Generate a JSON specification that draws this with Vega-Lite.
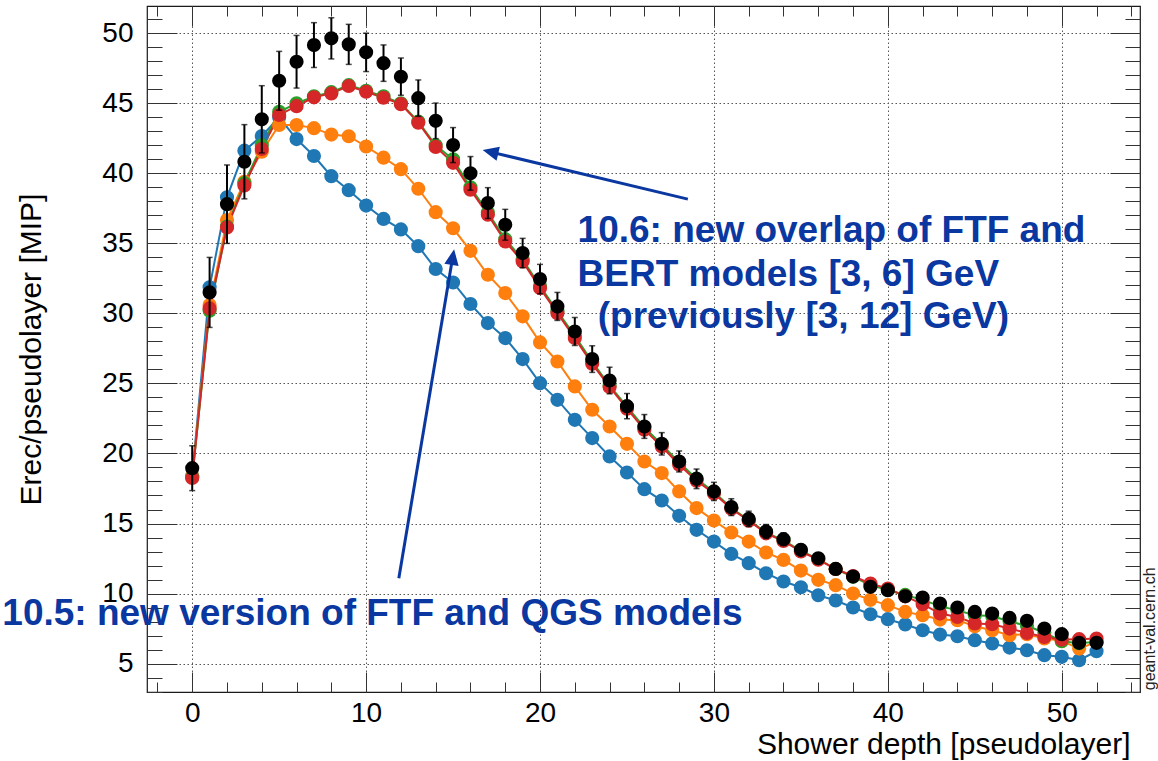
{
  "$schema": "https://vega.github.io/schema/vega-lite/v6.json",
  "width": 993,
  "height": 686,
  "autosize": "none",
  "padding": {"left": 147, "top": 6, "right": 18, "bottom": 69},
  "background": "white",
  "config": {
    "view": {"stroke": "#1a1a1a", "strokeWidth": 1.2},
    "font": "Liberation Sans",
    "axis": {"labelFont": "Liberation Sans", "titleFont": "Liberation Sans", "labelColor": "#000", "titleColor": "#000", "titleFontWeight": "normal", "tickColor": "#333", "tickWidth": 1, "domain": false, "labelFlush": false, "labelOverlap": false}
  },
  "datasets": {
    "profile": [
      {"d":0,"blue":18.4,"orange":18.4,"green":18.3,"red":18.25,"measured":18.95,"err":1.6},
      {"d":1,"blue":31.86,"orange":30.6,"green":30.2,"red":30.36,"measured":31.5,"err":2.5},
      {"d":2,"blue":38.29,"orange":36.67,"green":36.2,"red":36.14,"measured":37.8,"err":2.8},
      {"d":3,"blue":41.62,"orange":39.4,"green":39.3,"red":39.14,"measured":40.83,"err":2.65},
      {"d":4,"blue":42.67,"orange":41.55,"green":42.0,"red":41.74,"measured":43.86,"err":2.4},
      {"d":5,"blue":44.0,"orange":43.45,"green":44.4,"red":44.17,"measured":46.61,"err":2.1},
      {"d":6,"blue":42.45,"orange":43.45,"green":45.0,"red":44.8,"measured":47.97,"err":1.88},
      {"d":7,"blue":41.24,"orange":43.23,"green":45.5,"red":45.43,"measured":49.16,"err":1.6},
      {"d":8,"blue":39.8,"orange":42.77,"green":45.8,"red":45.71,"measured":49.64,"err":1.47},
      {"d":9,"blue":38.8,"orange":42.65,"green":46.3,"red":46.24,"measured":49.21,"err":1.43},
      {"d":10,"blue":37.7,"orange":41.92,"green":45.9,"red":45.83,"measured":48.64,"err":1.37},
      {"d":11,"blue":36.75,"orange":41.12,"green":45.5,"red":45.4,"measured":47.87,"err":1.3},
      {"d":12,"blue":36.0,"orange":40.3,"green":45.0,"red":44.94,"measured":46.9,"err":1.33},
      {"d":13,"blue":34.8,"orange":38.9,"green":43.7,"red":43.62,"measured":45.37,"err":1.3},
      {"d":14,"blue":33.17,"orange":37.23,"green":42.0,"red":41.89,"measured":43.75,"err":1.27},
      {"d":15,"blue":32.21,"orange":36.08,"green":41.0,"red":40.75,"measured":42.02,"err":1.25},
      {"d":16,"blue":30.67,"orange":34.47,"green":39.0,"red":38.83,"measured":40.0,"err":1.2},
      {"d":17,"blue":29.31,"orange":32.76,"green":37.2,"red":37.05,"measured":37.88,"err":1.1},
      {"d":18,"blue":28.24,"orange":31.45,"green":35.3,"red":35.14,"measured":36.33,"err":1.1},
      {"d":19,"blue":26.74,"orange":29.79,"green":33.85,"red":33.71,"measured":34.31,"err":1.05},
      {"d":20,"blue":25.02,"orange":27.93,"green":31.95,"red":31.81,"measured":32.45,"err":1.05},
      {"d":21,"blue":23.83,"orange":26.57,"green":30.15,"red":30.02,"measured":30.5,"err":1.0},
      {"d":22,"blue":22.4,"orange":24.79,"green":28.4,"red":28.24,"measured":28.71,"err":1.0},
      {"d":23,"blue":21.1,"orange":23.12,"green":26.55,"red":26.4,"measured":26.74,"err":0.95},
      {"d":24,"blue":19.79,"orange":21.93,"green":24.85,"red":24.75,"measured":25.21,"err":0.95},
      {"d":25,"blue":18.64,"orange":20.69,"green":23.35,"red":23.2,"measured":23.38,"err":0.9},
      {"d":26,"blue":17.45,"orange":19.43,"green":21.85,"red":21.7,"measured":21.93,"err":0.85},
      {"d":27,"blue":16.64,"orange":18.6,"green":20.65,"red":20.5,"measured":20.69,"err":0.8},
      {"d":28,"blue":15.55,"orange":17.29,"green":19.35,"red":19.2,"measured":19.43,"err":0.75},
      {"d":29,"blue":14.55,"orange":16.1,"green":18.2,"red":18.05,"measured":18.19,"err":0.7},
      {"d":30,"blue":13.71,"orange":15.21,"green":17.25,"red":17.15,"measured":17.29,"err":0.65},
      {"d":31,"blue":12.83,"orange":14.36,"green":16.1,"red":16.05,"measured":16.17,"err":0.6},
      {"d":32,"blue":12.17,"orange":13.71,"green":15.25,"red":15.2,"measured":15.33,"err":0.55},
      {"d":33,"blue":11.45,"orange":12.93,"green":14.35,"red":14.3,"measured":14.43,"err":0.5},
      {"d":34,"blue":10.86,"orange":12.4,"green":13.8,"red":13.75,"measured":13.88,"err":0.45},
      {"d":35,"blue":10.45,"orange":11.64,"green":13.05,"red":13.0,"measured":13.12,"err":0.4},
      {"d":36,"blue":9.88,"orange":10.98,"green":12.45,"red":12.42,"measured":12.52,"err":0.35},
      {"d":37,"blue":9.5,"orange":10.6,"green":11.75,"red":11.75,"measured":11.76,"err":0.3},
      {"d":38,"blue":9.0,"orange":10.0,"green":11.2,"red":11.25,"measured":11.21,"err":0.25},
      {"d":39,"blue":8.52,"orange":9.55,"green":10.6,"red":10.71,"measured":10.48,"err":0.2},
      {"d":40,"blue":8.17,"orange":9.17,"green":10.25,"red":10.36,"measured":10.24,"err":0.2},
      {"d":41,"blue":7.79,"orange":8.69,"green":9.9,"red":9.8,"measured":9.81,"err":0.2},
      {"d":42,"blue":7.38,"orange":8.45,"green":9.55,"red":9.24,"measured":9.71,"err":0.2},
      {"d":43,"blue":7.07,"orange":8.14,"green":9.1,"red":8.57,"measured":9.29,"err":0.2},
      {"d":44,"blue":6.95,"orange":8.1,"green":8.8,"red":8.33,"measured":9.0,"err":0.2},
      {"d":45,"blue":6.67,"orange":7.67,"green":8.45,"red":7.86,"measured":8.69,"err":0.2},
      {"d":46,"blue":6.43,"orange":7.38,"green":8.4,"red":7.81,"measured":8.57,"err":0.2},
      {"d":47,"blue":6.14,"orange":7.02,"green":8.0,"red":7.5,"measured":8.26,"err":0.2},
      {"d":48,"blue":5.95,"orange":7.1,"green":7.7,"red":7.19,"measured":8.05,"err":0.2},
      {"d":49,"blue":5.6,"orange":6.79,"green":7.2,"red":6.9,"measured":7.5,"err":0.2},
      {"d":50,"blue":5.48,"orange":6.62,"green":6.6,"red":6.71,"measured":7.1,"err":0.2},
      {"d":51,"blue":5.24,"orange":6.07,"green":6.45,"red":6.74,"measured":6.48,"err":0.2},
      {"d":52,"blue":5.88,"orange":6.55,"green":6.55,"red":6.79,"measured":6.48,"err":0.2}
    ],
    "notes": [
      {"tx": 22.16, "ty": 35.09, "label": "10.6: new overlap of FTF and"},
      {"tx": 22.16, "ty": 31.99, "label": "BERT models [3, 6] GeV"},
      {"tx": 23.32, "ty": 28.94, "label": "(previously [3, 12] GeV)"},
      {"tx": -10.92, "ty": 7.74, "label": "10.5: new version of FTF and QGS models"}
    ],
    "arrows": [
      {"id": "a1", "xt": 28.5, "yt": 38.16, "xe": 17.25, "ye": 41.5, "xh": 16.7, "yh": 41.66},
      {"id": "a2", "xt": 11.88, "yt": 11.09, "xe": 14.96, "ye": 33.89, "xh": 15.06, "yh": 34.59}
    ],
    "credit": [
      {"tx": 55.1, "ty": 3.1, "label": "geant-val.cern.ch"}
    ]
  },
  "layer": [
    {
      "data": {"name": "profile"},
      "transform": [{"fold": ["blue", "orange", "green", "red"], "as": ["series", "value"]}],
      "mark": {"type": "line", "strokeWidth": 2},
      "encoding": {
        "x": {"field": "d", "type": "quantitative", "scale": {"domain": [-2.6, 54.5], "nice": false, "zero": false},
          "axis": {"orient": "bottom", "values": [0, 10, 20, 30, 40, 50], "tickSize": -20, "labelPadding": 27, "labelFontSize": 28, "grid": true, "gridDash": [1.5, 2.5], "gridColor": "#555", "gridWidth": 1, "title": "Shower depth [pseudolayer]", "titleFontSize": 30, "titleX": 983, "titleAlign": "right", "titlePadding": 2}},
        "y": {"field": "value", "type": "quantitative", "scale": {"domain": [2.97, 51.95], "nice": false, "zero": false},
          "axis": {"orient": "left", "values": [5, 10, 15, 20, 25, 30, 35, 40, 45, 50], "tickSize": -30, "labelPadding": 44, "labelFontSize": 28, "grid": true, "gridDash": [1.5, 2.5], "gridColor": "#555", "gridWidth": 1, "title": "Erec/pseudolayer [MIP]", "titleFontSize": 30, "titlePadding": 55}},
        "color": {"field": "series", "type": "nominal", "scale": {"domain": ["blue", "orange", "green", "red"], "range": ["#1f77b4", "#ff7f0e", "#2ca02c", "#d62728"]}, "legend": null},
        "order": {"field": "d", "type": "quantitative"}
      }
    },
    {
      "data": {"name": "profile"},
      "transform": [{"fold": ["blue", "orange", "green", "red"], "as": ["series", "value"]}],
      "mark": {"type": "point", "shape": "circle", "filled": true, "opacity": 1, "size": 200, "strokeWidth": 0},
      "encoding": {
        "x": {"field": "d", "type": "quantitative",
          "axis": {"orient": "bottom", "values": [-2, 0, 2, 4, 6, 8, 10, 12, 14, 16, 18, 20, 22, 24, 26, 28, 30, 32, 34, 36, 38, 40, 42, 44, 46, 48, 50, 52, 54], "tickSize": -10, "labels": false, "grid": false, "title": null}},
        "y": {"field": "value", "type": "quantitative",
          "axis": {"orient": "left", "values": [3, 4, 5, 6, 7, 8, 9, 10, 11, 12, 13, 14, 15, 16, 17, 18, 19, 20, 21, 22, 23, 24, 25, 26, 27, 28, 29, 30, 31, 32, 33, 34, 35, 36, 37, 38, 39, 40, 41, 42, 43, 44, 45, 46, 47, 48, 49, 50, 51], "tickSize": -15, "labels": false, "grid": false, "title": null}},
        "color": {"field": "series", "type": "nominal", "scale": {"domain": ["blue", "orange", "green", "red"], "range": ["#1f77b4", "#ff7f0e", "#2ca02c", "#d62728"]}, "legend": null}
      }
    },
    {
      "data": {"name": "profile"},
      "mark": {"type": "errorbar", "ticks": {"size": 6, "thickness": 1.5, "color": "#000"}, "rule": {"strokeWidth": 2, "color": "#000"}},
      "encoding": {
        "x": {"field": "d", "type": "quantitative", "axis": null},
        "y": {"field": "measured", "type": "quantitative", "axis": null},
        "yError": {"field": "err"}
      }
    },
    {
      "data": {"name": "profile"},
      "mark": {"type": "point", "shape": "circle", "filled": true, "opacity": 1, "size": 200, "strokeWidth": 0, "color": "#000"},
      "encoding": {
        "x": {"field": "d", "type": "quantitative",
          "axis": {"orient": "top", "values": [0, 10, 20, 30, 40, 50], "tickSize": -20, "labels": false, "grid": false, "title": null}},
        "y": {"field": "measured", "type": "quantitative",
          "axis": {"orient": "right", "values": [5, 10, 15, 20, 25, 30, 35, 40, 45, 50], "tickSize": -30, "labels": false, "grid": false, "title": null}}
      }
    },
    {
      "data": {"name": "arrows"},
      "mark": {"type": "rule", "strokeWidth": 3, "color": "#0a37a0"},
      "encoding": {
        "x": {"field": "xt", "type": "quantitative",
          "axis": {"orient": "top", "values": [-2, 0, 2, 4, 6, 8, 10, 12, 14, 16, 18, 20, 22, 24, 26, 28, 30, 32, 34, 36, 38, 40, 42, 44, 46, 48, 50, 52, 54], "tickSize": -10, "labels": false, "grid": false, "title": null}},
        "y": {"field": "yt", "type": "quantitative",
          "axis": {"orient": "right", "values": [3, 4, 5, 6, 7, 8, 9, 10, 11, 12, 13, 14, 15, 16, 17, 18, 19, 20, 21, 22, 23, 24, 25, 26, 27, 28, 29, 30, 31, 32, 33, 34, 35, 36, 37, 38, 39, 40, 41, 42, 43, 44, 45, 46, 47, 48, 49, 50, 51], "tickSize": -15, "labels": false, "grid": false, "title": null}},
        "x2": {"field": "xe"},
        "y2": {"field": "ye"}
      }
    },
    {
      "data": {"name": "arrows"},
      "transform": [{"filter": "datum.id === 'a1'"}],
      "mark": {"type": "point", "shape": "M0,0L-0.9,2L0.9,2Z", "size": 256, "filled": true, "opacity": 1, "strokeWidth": 0, "color": "#0a37a0", "angle": 283.4},
      "encoding": {
        "x": {"field": "xh", "type": "quantitative", "axis": null},
        "y": {"field": "yh", "type": "quantitative", "axis": null}
      }
    },
    {
      "data": {"name": "arrows"},
      "transform": [{"filter": "datum.id === 'a2'"}],
      "mark": {"type": "point", "shape": "M0,0L-0.9,2L0.9,2Z", "size": 256, "filled": true, "opacity": 1, "strokeWidth": 0, "color": "#0a37a0", "angle": 9.5},
      "encoding": {
        "x": {"field": "xh", "type": "quantitative", "axis": null},
        "y": {"field": "yh", "type": "quantitative", "axis": null}
      }
    },
    {
      "data": {"name": "notes"},
      "mark": {"type": "text", "font": "Liberation Sans", "fontWeight": "bold", "fontSize": 37, "color": "#0a37a0", "align": "left", "baseline": "alphabetic"},
      "encoding": {
        "x": {"field": "tx", "type": "quantitative", "axis": null},
        "y": {"field": "ty", "type": "quantitative", "axis": null},
        "text": {"field": "label"}
      }
    },
    {
      "data": {"name": "credit"},
      "mark": {"type": "text", "font": "Liberation Sans", "fontSize": 16, "color": "#222", "align": "left", "baseline": "middle", "angle": 270},
      "encoding": {
        "x": {"field": "tx", "type": "quantitative", "axis": null},
        "y": {"field": "ty", "type": "quantitative", "axis": null},
        "text": {"field": "label"}
      }
    }
  ],
  "resolve": {"axis": {"x": "independent", "y": "independent"}}
}
